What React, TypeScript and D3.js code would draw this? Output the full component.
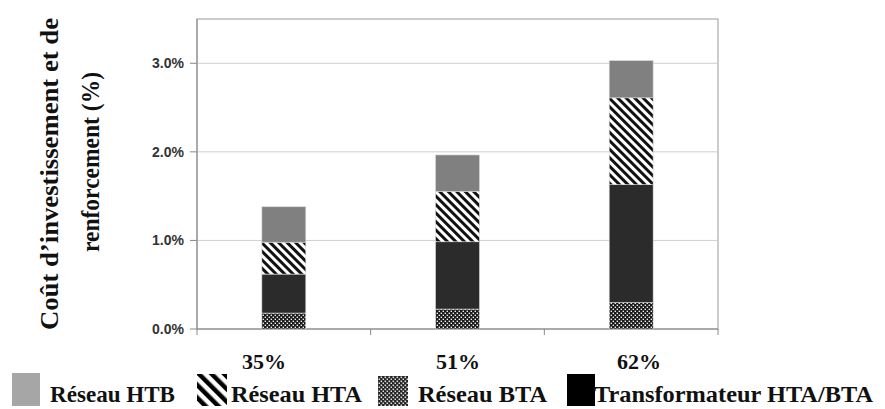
import React from "react";
import * as d3 from "d3";

const categories = ["35%", "51%", "62%"];
const reseauBTA = [0.0018, 0.00225, 0.003];
const transformateur = [0.0044, 0.0076, 0.0133];
const reseauHTA = [0.0036, 0.0057, 0.0098];
const reseauHTB = [0.004, 0.0041, 0.0042];
const yTicks = [0, 0.01, 0.02, 0.03];
const legendItems = ["Réseau HTB", "Réseau HTA", "Réseau BTA", "Transformateur HTA/BTA"];

const W = 885;
const H = 409;
const plot = { left: 197, right: 718, top: 19, bottom: 329 };
const serif = "'Liberation Serif', 'DejaVu Serif', serif";

export default function App() {
  const rows = categories.map((c, i) => ({
    cat: c,
    bta: reseauBTA[i],
    tr: transformateur[i],
    hta: reseauHTA[i],
    htb: reseauHTB[i],
  }));
  const keys = ["bta", "tr", "hta", "htb"];
  const stack = d3.stack<any>().keys(keys)(rows);

  const x = d3
    .scaleBand<string>()
    .domain(categories)
    .range([plot.left, plot.right])
    .paddingInner(0.747)
    .paddingOuter(0.3735);
  const xOuter = d3.scaleBand<string>().domain(categories).range([plot.left, plot.right]);
  const y = d3.scaleLinear().domain([0, 0.035]).range([plot.bottom, plot.top]);

  const fills: Record<string, string> = {
    bta: "url(#pBTA)",
    tr: "#2b2b2b",
    hta: "url(#pHTA)",
    htb: "#808080",
  };

  const fmt = d3.format(".1%");
  const catLabelX = [264, 458, 639];

  const legend = [
    { label: legendItems[0], box: [12, 373, 28, 33], fill: "#a6a6a6", tx: 50, tw: 125 },
    { label: legendItems[1], box: [197, 374, 30, 32], fill: "url(#pHTAleg)", tx: 231, tw: 131 },
    { label: legendItems[2], box: [378, 376, 30, 30], fill: "url(#pBTAleg)", tx: 418, tw: 129 },
    { label: legendItems[3], box: [567, 374, 28, 32], fill: "#000", tx: 594, tw: 279 },
  ];

  return (
    <svg
      width={W}
      height={H}
      style={{ position: "absolute", left: 0, top: 0, background: "#fff" }}
    >
      <defs>
        <pattern id="pHTA" width="6" height="6" patternUnits="userSpaceOnUse" patternTransform="rotate(-45)">
          <rect width="6" height="6" fill="#fff" />
          <rect width="3" height="6" fill="#111" />
        </pattern>
        <pattern id="pBTA" width="4" height="4" patternUnits="userSpaceOnUse">
          <rect width="4" height="4" fill="#1a1a1a" />
          <rect x="0.6" y="0.6" width="1.4" height="1.4" fill="#eee" />
          <rect x="2.6" y="2.6" width="1.4" height="1.4" fill="#eee" />
        </pattern>
        <pattern id="pHTAleg" width="9" height="9" patternUnits="userSpaceOnUse" patternTransform="rotate(-45)">
          <rect width="9" height="9" fill="#fff" />
          <rect width="4.5" height="9" fill="#000" />
        </pattern>
        <pattern id="pBTAleg" width="4" height="4" patternUnits="userSpaceOnUse">
          <rect width="4" height="4" fill="#222" />
          <rect x="0.5" y="0.5" width="1.6" height="1.6" fill="#ddd" />
          <rect x="2.5" y="2.5" width="1.6" height="1.6" fill="#ddd" />
        </pattern>
      </defs>

      {/* plot frame */}
      <rect
        x={plot.left}
        y={plot.top}
        width={plot.right - plot.left}
        height={plot.bottom - plot.top}
        fill="#fff"
        stroke="#999"
        strokeWidth={1}
      />
      {/* gridlines */}
      {yTicks.slice(1).map((t) => (
        <line key={t} x1={plot.left} x2={plot.right} y1={y(t)} y2={y(t)} stroke="#cfcfcf" strokeWidth={1} />
      ))}
      {/* y ticks and labels */}
      {yTicks.map((t) => (
        <g key={"yt" + t}>
          <line x1={plot.left - 7} x2={plot.left} y1={y(t)} y2={y(t)} stroke="#888" />
          <text
            x={184}
            y={y(t)}
            dy="0.36em"
            textAnchor="end"
            fontFamily="'Liberation Sans', Arial, sans-serif"
            fontWeight="bold"
            fontSize={14}
            fill="#333"
          >
            {fmt(t)}
          </text>
        </g>
      ))}
      {/* x ticks */}
      {[...categories.map((c) => xOuter(c) as number), plot.right].map((v, i) => (
        <line key={"xt" + i} x1={v} x2={v} y1={plot.bottom} y2={plot.bottom + 6} stroke="#888" />
      ))}
      {/* axes */}
      <line x1={plot.left} x2={plot.left} y1={plot.top} y2={plot.bottom} stroke="#888" />
      <line x1={plot.left} x2={plot.right} y1={plot.bottom} y2={plot.bottom} stroke="#888" />

      {/* bars */}
      {stack.map((s) => (
        <g key={s.key}>
          {s.map((d, i) => (
            <rect
              key={i}
              x={x(rows[i].cat)}
              width={x.bandwidth()}
              y={y(d[1])}
              height={y(d[0]) - y(d[1])}
              fill={fills[s.key]}
              stroke="#d8d8d8"
              strokeWidth={0.6}
            />
          ))}
        </g>
      ))}

      {/* category labels */}
      {categories.map((c, i) => (
        <text
          key={"cl" + c}
          x={catLabelX[i]}
          y={369}
          textAnchor="middle"
          fontFamily={serif}
          fontWeight="bold"
          fontSize={22}
          fill="#111"
        >
          {c}
        </text>
      ))}

      {/* y-axis title */}
      <g transform="translate(0,174) rotate(-90)">
        <text
          x={0}
          y={58}
          textAnchor="middle"
          fontFamily={serif}
          fontWeight="bold"
          fontSize={25}
          fill="#111"
          textLength={312}
          lengthAdjust="spacingAndGlyphs"
        >
          Coût d’investissement et de
        </text>
        <text
          x={12}
          y={99}
          textAnchor="middle"
          fontFamily={serif}
          fontWeight="bold"
          fontSize={25}
          fill="#111"
          textLength={180}
          lengthAdjust="spacingAndGlyphs"
        >
          renforcement (%)
        </text>
      </g>

      {/* legend */}
      {legend.map((l) => (
        <g key={l.label}>
          <rect x={l.box[0]} y={l.box[1]} width={l.box[2]} height={l.box[3]} fill={l.fill} />
          <text
            x={l.tx}
            y={402}
            fontFamily={serif}
            fontWeight="bold"
            fontSize={24}
            fill="#111"
            textLength={l.tw}
            lengthAdjust="spacingAndGlyphs"
          >
            {l.label}
          </text>
        </g>
      ))}
    </svg>
  );
}
